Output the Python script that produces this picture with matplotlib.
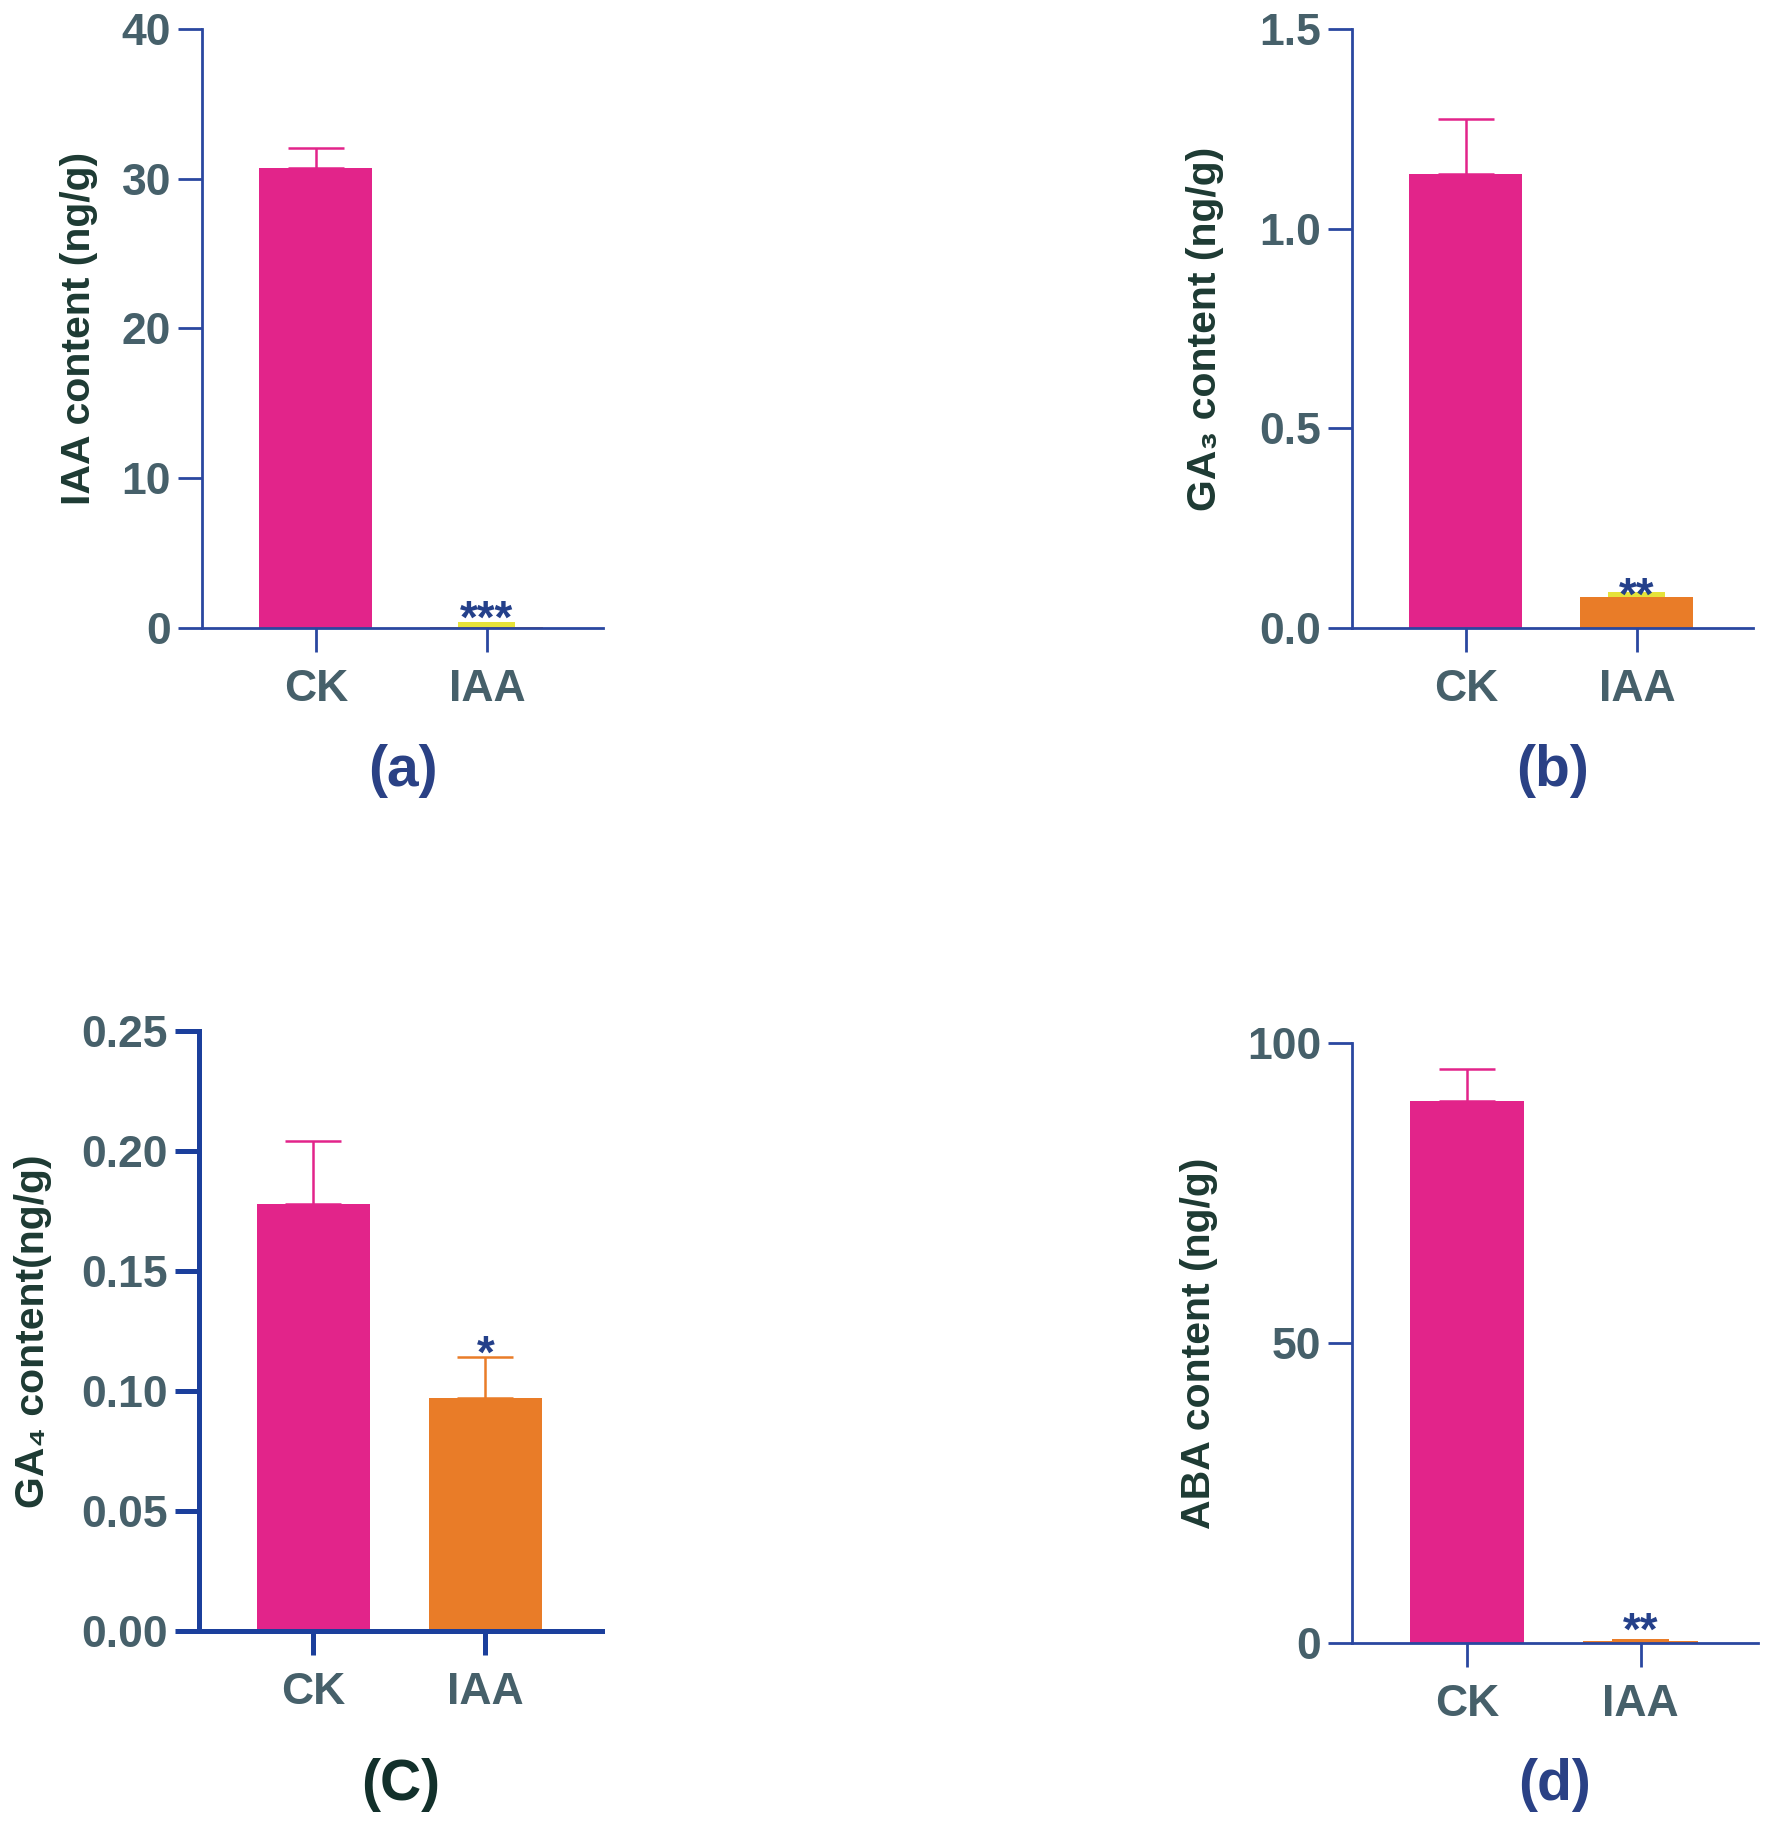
import matplotlib
matplotlib.use("Agg")
import matplotlib.pyplot as plt

# data
groups = ["CK", "IAA"]

iaa_mean = [30.75, 0.05]
iaa_err = [1.30, 0.35]

ga3_mean = [1.138, 0.078]
ga3_err = [0.137, 0.011]

ga4_mean = [0.178, 0.097]
ga4_err = [0.026, 0.017]

aba_mean = [90.4, 0.3]
aba_err = [5.3, 0.4]

ylabels = ["IAA content (ng/g)", "GA₃ content (ng/g)", "GA₄ content(ng/g)", "ABA content (ng/g)"]
yticks_list = [[0, 10, 20, 30, 40], [0.0, 0.5, 1.0, 1.5],
               [0.00, 0.05, 0.10, 0.15, 0.20, 0.25], [0, 50, 100]]
tick_fmt = ["{:.0f}", "{:.1f}", "{:.2f}", "{:.0f}"]
panel_tags = ["(a)", "(b)", "(C)", "(d)"]
stars = ["***", "**", "*", "**"]

PINK = "#e2248a"
ORANGE = "#e97c28"
YELLOW = "#e6e23a"
TICK_COL = "#46606a"
LABEL_COL = "#1d3a33"
STAR_COL = "#24408a"

plt.rcParams["font.family"] = ["Liberation Sans", "DejaVu Sans"]
plt.rcParams["font.weight"] = "bold"

W, H = 1771, 1826
fig = plt.figure(figsize=(W / 100, H / 100), dpi=100)

# axes boxes in pixels: left, right, top, bottom
boxes = [(202, 603, 29, 628), (1352, 1753, 29, 628),
         (199, 602, 1031, 1631), (1352, 1758, 1043, 1643)]
ylab_x = [-0.307, -0.367, -0.412, -0.377]
tag_y = [-0.238, -0.238, -0.256, -0.236]
tag_col = ["#2a4185", "#2a4185", "#12302b", "#2a4185"]
axis_col = ["#2a47a0", "#2a47a0", "#1b3f9c", "#2a47a0"]
axis_lw = [2.0, 2.0, 3.6, 2.0]
star_off = [-8, -12.5, -7.5, -4.5]
# IAA error drawn as a filled block (tiny errors) or a normal capped line
err_colors = [[PINK, YELLOW], [PINK, YELLOW], [PINK, ORANGE], [PINK, ORANGE]]
block_err = [[False, True], [False, True], [False, False], [False, True]]

means = [iaa_mean, ga3_mean, ga4_mean, aba_mean]
errs = [iaa_err, ga3_err, ga4_err, aba_err]

x = [0, 1]
for i in range(4):
    l, r, t, b = boxes[i]
    ax = fig.add_axes([l / W, 1 - b / H, (r - l) / W, (b - t) / H])
    ax.bar(x, means[i], width=0.66, color=[PINK, ORANGE], zorder=1)
    for j in range(2):
        if block_err[i][j]:
            ax.bar(x[j], errs[i][j], bottom=means[i][j], width=0.333,
                   color=err_colors[i][j], zorder=1.5)
        else:
            ax.errorbar(x[j], means[i][j], yerr=[[0], [errs[i][j]]], fmt="none",
                        ecolor=err_colors[i][j], elinewidth=1.8, capsize=20.5,
                        capthick=1.8, zorder=1.5)
    top = means[i][1] + errs[i][1]
    ax.annotate(stars[i], (x[1], top), xytext=(0, star_off[i]),
                textcoords="offset points", ha="center", va="baseline",
                fontsize=33, color=STAR_COL, fontweight="bold")

    yt = yticks_list[i]
    ax.set_ylim(yt[0], yt[-1])
    ax.set_xlim(-0.665, 1.678)
    ax.set_yticks(yt)
    ax.set_yticklabels([tick_fmt[i].format(v) for v in yt])
    ax.set_xticks(x)
    ax.set_xticklabels(groups)
    for s in ["top", "right"]:
        ax.spines[s].set_visible(False)
    for s in ["left", "bottom"]:
        ax.spines[s].set_color(axis_col[i])
        ax.spines[s].set_linewidth(axis_lw[i])
    ax.tick_params(axis="both", length=17.3, width=axis_lw[i], color=axis_col[i],
                   labelsize=32, labelcolor=TICK_COL)
    ax.tick_params(axis="y", pad=5)
    ax.tick_params(axis="x", pad=12)
    for lab in ax.get_xticklabels() + ax.get_yticklabels():
        lab.set_fontweight("bold")

    ax.text(ylab_x[i], 0.5, ylabels[i], transform=ax.transAxes, rotation=90,
            ha="center", va="center", fontsize=29.5, color=LABEL_COL, fontweight="bold")
    ax.text(0.5, tag_y[i], panel_tags[i], transform=ax.transAxes, ha="center",
            va="center", fontsize=41, color=tag_col[i], fontweight="bold")

fig.savefig("out.png", dpi=100, facecolor="white")
